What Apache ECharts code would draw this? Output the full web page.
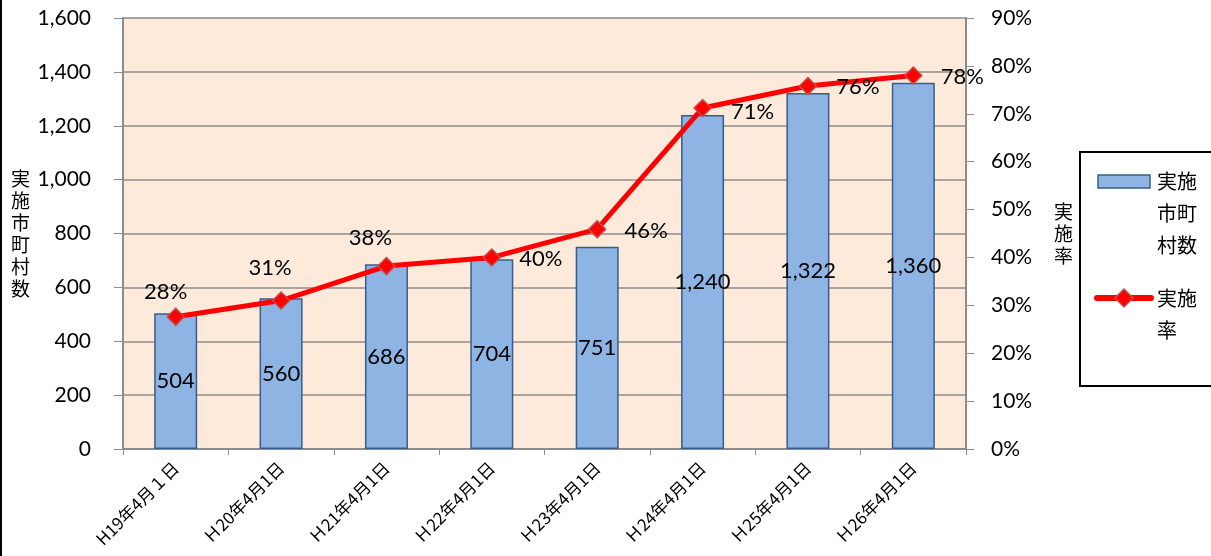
<!DOCTYPE html>
<html>
<head>
<meta charset="utf-8">
<script src="https://cdn.jsdelivr.net/npm/echarts@6/dist/echarts.min.js"></script>
<style>
html, body { margin: 0; padding: 0; background: #fff; }
#chart { width: 1211px; height: 556px; }
</style>
</head>
<body>
<div id="chart"></div>
<script>
// data
const categories = ['H19年4月１日', 'Ｈ20年4月1日', 'Ｈ21年4月1日', 'Ｈ22年4月1日',
  'Ｈ23年4月1日', 'Ｈ24年4月1日', 'Ｈ25年4月1日', 'Ｈ26年4月1日']
const municipalities = [504, 560, 686, 704, 751, 1240, 1322, 1360]
const rates = [27.6, 31.0, 38.2, 40.0, 45.9, 71.2, 75.8, 78.0]
const seriesNames = ['実施市町村数', '実施率']
// where Excel put each % label, relative to the point
const rateLabelOffsets = [[-10, -25], [-11, -33], [-16, -28], [49, 1], [49, 2], [50, 4], [50, 1], [49, 1]]

const jpFont = '"Noto Sans CJK JP", "Lato", sans-serif'
const numFont = '"Lato", "Noto Sans CJK JP", sans-serif'

const chart = echarts.init(document.getElementById('chart'))

// Excel-style legend: text wrapped every 2 chars, icon on the first line
function legendText(name, y) {
  return {
    type: 'text',
    style: {
      text: name.match(/.{1,2}/g).join('\n'),
      x: 1157, y: y - 16,
      font: '20px ' + jpFont,
      lineHeight: 32,
      fill: '#000'
    }
  }
}

const option = {
  animation: false,
  backgroundColor: '#fff',
  grid: { left: 123, right: 245, top: 18, bottom: 107, show: true, backgroundColor: '#FDEADA', borderWidth: 0 },
  legend: { show: false, data: seriesNames },
  xAxis: {
    type: 'category',
    data: categories,
    axisLine: { lineStyle: { color: '#8c8c8c', width: 2 } },
    axisTick: { show: true, length: 6, lineStyle: { color: '#8c8c8c' } },
    axisLabel: { rotate: 45, fontFamily: jpFont, fontSize: 17, color: '#000', margin: 16, interval: 0 }
  },
  yAxis: [
    {
      type: 'value',
      min: 0, max: 1600, interval: 200,
      name: '実\n施\n市\n町\n村\n数',
      nameLocation: 'middle',
      nameRotate: 0,
      nameGap: 93,
      nameTextStyle: { fontFamily: jpFont, fontSize: 19, color: '#000', lineHeight: 22 },
      axisLine: { show: true, lineStyle: { color: '#8c8c8c', width: 2 } },
      axisTick: { show: true, inside: false, length: 9, lineStyle: { color: '#8c8c8c' } },
      axisLabel: {
        fontFamily: numFont, fontSize: 21, color: '#000', margin: 32,
        formatter: v => v.toLocaleString('en-US')
      },
      splitLine: { lineStyle: { color: '#8c8c8c', width: 1.5 } }
    },
    {
      type: 'value',
      min: 0, max: 90, interval: 10,
      name: '実\n施\n率',
      nameLocation: 'middle',
      nameRotate: 0,
      nameGap: 88,
      nameTextStyle: { fontFamily: jpFont, fontSize: 19, color: '#000', lineHeight: 22 },
      axisLine: { show: true, lineStyle: { color: '#8c8c8c', width: 2 } },
      axisTick: { show: true, length: 8, lineStyle: { color: '#8c8c8c' } },
      axisLabel: { fontFamily: numFont, fontSize: 21, color: '#000', margin: 25, formatter: '{value}%' },
      splitLine: { show: false }
    }
  ],
  series: [
    {
      name: seriesNames[0],
      type: 'bar',
      barWidth: 43,
      data: municipalities,
      itemStyle: { color: '#8EB4E3', borderColor: '#385D8A', borderWidth: 1.5 },
      label: {
        show: true, position: 'inside',
        fontFamily: numFont, fontSize: 22, color: '#000',
        formatter: p => p.value.toLocaleString('en-US')
      },
      z: 2
    },
    {
      name: seriesNames[1],
      type: 'line',
      yAxisIndex: 1,
      data: rates.map((v, i) => ({
        value: v,
        label: { offset: rateLabelOffsets[i] }
      })),
      lineStyle: { color: '#FF0000', width: 5 },
      symbol: 'diamond',
      symbolSize: 17,
      itemStyle: { color: '#FF0000', borderColor: '#C0504D', borderWidth: 1.5 },
      label: {
        show: true, position: 'inside',
        fontFamily: numFont, fontSize: 22, color: '#000',
        formatter: p => Math.round(p.value) + '%'
      },
      z: 3
    }
  ],
  graphic: [
    { type: 'line', shape: { x1: 1, y1: 0, x2: 1, y2: 556 }, style: { stroke: '#000', lineWidth: 2 } },
    { type: 'rect', shape: { x: 1080, y: 152, width: 140, height: 234 }, style: { fill: '#fff', stroke: '#000', lineWidth: 2 } },
    // legend: bars
    { type: 'rect', shape: { x: 1098, y: 175, width: 52, height: 13 }, style: { fill: '#8EB4E3', stroke: '#385D8A', lineWidth: 1.5 } },
    legendText(seriesNames[0], 181),
    // legend: line
    { type: 'line', shape: { x1: 1097, y1: 298, x2: 1151, y2: 298 }, style: { stroke: '#FF0000', lineWidth: 6, lineCap: 'round' } },
    { type: 'polygon', shape: { points: [[1124, 289], [1133, 298], [1124, 307], [1115, 298]] }, style: { fill: '#FF0000', stroke: '#C0504D', lineWidth: 1.5 } },
    legendText(seriesNames[1], 298)
  ]
}

chart.setOption(option)
</script>
</body>
</html>
